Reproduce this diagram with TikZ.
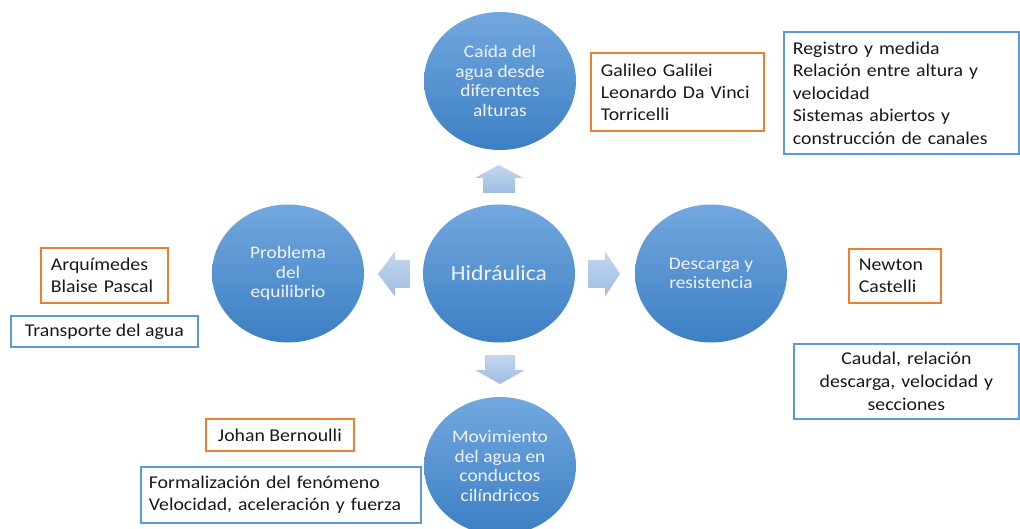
\documentclass[tikz,border=0pt]{standalone}
\usepackage{fontspec}
\setmainfont{Carlito}[FakeStretch=1.1]
\usetikzlibrary{shapes.geometric}
\definecolor{orng}{RGB}{237,125,49}
\definecolor{bbord}{RGB}{91,155,213}
\definecolor{ctop}{RGB}{114,168,222}
\definecolor{cbot}{RGB}{60,127,196}
\definecolor{atop}{RGB}{196,214,238}
\definecolor{abot}{RGB}{158,189,226}
\definecolor{txt}{RGB}{25,25,25}
\begin{document}
\begin{tikzpicture}[x=1pt,y=-1pt,
  circ/.style={ellipse, minimum width=152pt, minimum height=138pt, inner sep=0pt,
    top color=ctop, bottom color=cbot, text=white!95!blue, align=center,
    font=\fontsize{17.6}{19.5}\selectfont},
  boxbase/.style={rectangle, line width=1.8pt, fill=white, text=txt, inner ysep=0pt,
    anchor=north west, font=\fontsize{18}{22}\selectfont},
  obox/.style={boxbase, draw=orng},
  bbox/.style={boxbase, draw=bbord},
  blockarrow/.style={top color=atop, bottom color=abot, draw=none}
]
\useasboundingbox (0,0) rectangle (1020,529);

% circles
\node[circ, font=\fontsize{21.5}{24}\selectfont] (hid) at (499,273.5) {Hidráulica};
\node[circ] (top) at (500,81) {Caída del\\agua desde\\diferentes\\alturas};
\node[circ] (left) at (288,273.5) {Problema\\del\\equilibrio};
\node[circ] (right) at (711,273.5) {Descarga y\\resistencia};
\node[circ] (bot) at (500,466) {Movimiento\\del agua en\\conductos\\cilíndricos};

% block arrows
\coordinate (aup) at (499,193);
\shade[blockarrow] (aup) ++(-16,0) -- ++(0,-15) -- ++(-8,0) -- ++(24,-13) -- ++(24,13) -- ++(-8,0) -- ++(0,15) -- cycle;
\coordinate (adown) at (500,355);
\shade[blockarrow] (adown) ++(-15,0) -- ++(0,15) -- ++(-10,0) -- ++(25,14) -- ++(25,-14) -- ++(-10,0) -- ++(0,-15) -- cycle;
\coordinate (aleft) at (410,274);
\shade[blockarrow] (aleft) ++(0,-14) -- ++(-15,0) -- ++(0,-8.5) -- ++(-17,22.5) -- ++(17,22.5) -- ++(0,-8.5) -- ++(15,0) -- cycle;
\coordinate (aright) at (588,274);
\shade[blockarrow] (aright) ++(0,-14) -- ++(17,0) -- ++(0,-8.5) -- ++(15,22.5) -- ++(-15,22.5) -- ++(0,-8.5) -- ++(-17,0) -- cycle;

% boxes
\node[obox, minimum width=173pt, minimum height=78pt, inner xsep=10pt, text width=153pt, align=left]
  (gal) at (590,52) {Galileo Galilei\\Leonardo Da Vinci\\Torricelli};
\node[bbox, minimum width=235pt, minimum height=122pt, inner xsep=9pt, text width=217pt, align=left,
  font=\fontsize{18}{22.5}\selectfont]
  (reg) at (783,31) {Registro y medida\\Relación entre altura y\\velocidad\\Sistemas abiertos y\\construcción de canales};
\node[obox, minimum width=127pt, minimum height=55pt, inner xsep=10pt, text width=107pt, align=left]
  (arq) at (40,247) {Arquímedes\\Blaise Pascal};
\node[bbox, minimum width=187pt, minimum height=31pt, inner xsep=4pt, align=center]
  (tra) at (10,315) {Transporte del agua};
\node[obox, minimum width=90pt, minimum height=54pt, inner xsep=10pt, text width=72pt, align=left]
  (new) at (848,248) {Newton\\Castelli};
\node[bbox, minimum width=225pt, minimum height=75pt, inner xsep=4pt, text width=217pt, align=center,
  font=\fontsize{18}{23}\selectfont]
  (cau) at (793,343) {Caudal, relación\\descarga, velocidad y\\secciones};
\node[obox, minimum width=148pt, minimum height=32pt, inner xsep=4pt, align=center]
  (joh) at (205,418) {Johan Bernoulli};
\node[bbox, minimum width=278pt, minimum height=56pt, inner xsep=8pt, text width=264pt, align=left]
  (for) at (140,466) {Formalización del fenómeno\\Velocidad, aceleración y fuerza};
\end{tikzpicture}
\end{document}
